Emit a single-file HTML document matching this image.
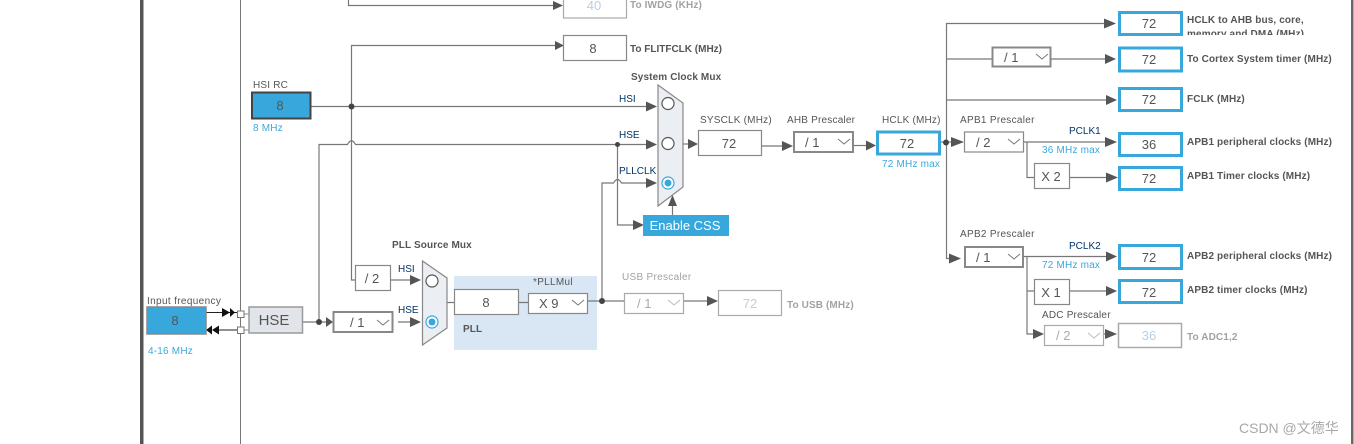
<!DOCTYPE html>
<html><head><meta charset="utf-8"><style>
html,body{margin:0;padding:0;background:#fff;width:1354px;height:444px;overflow:hidden}
svg{display:block}
text{font-family:"Liberation Sans","Noto Sans CJK SC",sans-serif;font-size:10px;fill:#555;letter-spacing:.2px}
.b{font-weight:bold;font-size:10px;letter-spacing:.12px}
.n{fill:#036;font-size:10px;letter-spacing:0}
.bl{fill:#3aa8dd;font-size:10px;letter-spacing:.2px}
.g{fill:#a0a3a6}
.v{font-size:13px;text-anchor:middle;fill:#555;letter-spacing:0}
.vd{font-size:13px;text-anchor:middle;fill:#b9cfe6;letter-spacing:0}
.s{font-size:13px;letter-spacing:0}
.l{fill:none;stroke:#777;stroke-width:1.2}
.box{fill:#fff;stroke:#888;stroke-width:1.2}
.box2{fill:#fff;stroke:#888;stroke-width:2}
.out{fill:#fff;stroke:#38a8dc;stroke-width:3}
.dis{fill:#fff;stroke:#aaa;stroke-width:1.2}
.chev{fill:none;stroke:#777;stroke-width:1}
.chevd{fill:none;stroke:#bbb;stroke-width:1}
.ar{fill:#555}
.d{fill:#444}
</style></head><body>
<svg width="1354" height="444" viewBox="0 0 1354 444" xmlns="http://www.w3.org/2000/svg">
<rect x="140" y="0" width="3.5" height="444" fill="#555"/>
<rect x="1351" y="0" width="2.5" height="444" fill="#666"/>
<line x1="240.5" y1="0" x2="240.5" y2="444" stroke="#777" stroke-width="1"/>

<rect x="454" y="276" width="143" height="74" fill="#d9e7f5"/>

<!-- connectors -->
<path class="l" d="M348.5 0V5.5H558"/>
<path class="l" d="M558 45.5H351.5V280H355"/>
<path class="l" d="M311 106.5H650"/>
<path class="l" d="M319 322V144.5H347.5Q351.5 137 355.5 144.5H650"/>
<path class="l" d="M617.5 144.5V225H636"/>
<path class="l" d="M602 301V183H613.5Q617.5 176 621.5 183H650"/>
<path class="l" d="M672.5 215V200"/>
<path class="l" d="M683 144H690"/>
<path class="l" d="M762 146H785"/>
<path class="l" d="M853 145.5H868"/>
<path class="l" d="M941 142H956"/>
<path class="l" d="M946.5 142V23.5H1110"/>
<path class="l" d="M946.5 59H992M1051 59H1110"/>
<path class="l" d="M946.5 100H1110"/>
<path class="l" d="M946.5 142V258.5H956"/>
<path class="l" d="M1024 142H1110"/>
<path class="l" d="M1027 142V177.5H1034M1070 177.5H1110"/>
<path class="l" d="M1024 256.5H1110"/>
<path class="l" d="M1027 256.5V334H1036M1027 291H1034M1070 291H1110"/>
<path class="l" d="M1104 334H1108"/>
<path class="l" d="M303 322H326"/>
<path class="l" d="M391 280H413M398 322H413"/>
<path class="l" d="M447 302.5H454M519 302.5H528M588 301H624M684 301H710"/>
<path d="M206 312.5H237M219 330H237" stroke="#222" stroke-width="1" fill="none"/>
<path d="M244 314H249M244 330H249" stroke="#888" stroke-width="1" fill="none"/>

<!-- arrowheads -->
<g class="ar">
<polygon points="553,1 563,5.5 553,10"/>
<polygon points="555,41 564,45.5 555,50"/>
<polygon points="646,101.5 657,106.5 646,111.5"/>
<polygon points="646,139.5 657,144.5 646,149.5"/>
<polygon points="646,178 657,183 646,188"/>
<polygon points="633,220 644,225 633,230"/>
<polygon points="668,206 672.5,195 677,206"/>
<polygon points="688,139 698,144 688,149"/>
<polygon points="782,141 793,146 782,151"/>
<polygon points="866,140.5 876,145.5 866,150.5"/>
<polygon points="951,137 964,142 951,147"/>
<polygon points="1104,18.5 1116,23.5 1104,28.5"/>
<polygon points="1105,54 1116,59 1105,64"/>
<polygon points="1106,95 1117,100 1106,105"/>
<polygon points="1105,137 1117,142 1105,147"/>
<polygon points="1106,172.5 1118,177.5 1106,182.5"/>
<polygon points="949,253.5 961,258.5 949,263.5"/>
<polygon points="1106,251.5 1117,256.5 1106,261.5"/>
<polygon points="1106,286 1117,291 1106,296"/>
<polygon points="1033,329 1044,334 1033,339"/>
<polygon points="1105,329 1117,334 1105,339"/>
<polygon points="326,317 333,322 326,327"/>
<polygon points="410,275 421,280 410,285"/>
<polygon points="410,317 421,322 410,327"/>
<polygon points="707,296 718,301 707,306"/>
</g>
<g fill="#111">
<polygon points="222,308 230,312.5 222,317"/>
<polygon points="230,308 235,312.5 230,317"/>
<polygon points="212,325.5 206,330 212,334.5"/>
<polygon points="219,325.5 212,330 219,334.5"/>
</g>
<g class="d">
<circle cx="351.5" cy="106.5" r="3"/>
<circle cx="617.5" cy="144.5" r="2.5"/>
<circle cx="319" cy="322" r="3"/>
<circle cx="602" cy="301" r="3"/>
<circle cx="946" cy="142.5" r="3"/>
</g>

<!-- left blocks -->
<text x="147" y="304" style="letter-spacing:.35px">Input frequency</text>
<rect x="147" y="307" width="59" height="27" fill="#38a8dc" stroke="#888" stroke-width="1.5"/>
<text x="175" y="325" class="v">8</text>
<text x="148" y="354" class="bl">4-16 MHz</text>
<rect x="237.5" y="311" width="6.5" height="6.5" fill="#fff" stroke="#777"/>
<rect x="237.5" y="327" width="6.5" height="6.5" fill="#fff" stroke="#777"/>
<rect x="249" y="307" width="53.5" height="26" fill="#e1e4e8" stroke="#999" stroke-width="1.5"/>
<text x="274" y="325" style="font-size:15px;text-anchor:middle;letter-spacing:0">HSE</text>

<text x="253" y="88">HSI RC</text>
<rect x="252" y="92.5" width="58.5" height="26" fill="#38a8dc" stroke="#444" stroke-width="2"/>
<text x="280" y="110" class="v">8</text>
<text x="253" y="131" class="bl">8 MHz</text>

<rect class="box2" x="333.5" y="312" width="59" height="20"/>
<text x="350" y="327" class="s">/ 1</text>
<path class="chev" d="M377 320L383 325L389 320"/>
<rect class="box" x="355.5" y="265.5" width="35" height="25"/>
<text x="372" y="283" class="v">/ 2</text>

<text x="398" y="272" class="n">HSI</text>
<text x="398" y="313" class="n">HSE</text>
<text x="392" y="248" class="b">PLL Source Mux</text>
<polygon points="422.5,261 447,278 447,328 422.5,345" fill="#ebeef2" stroke="#888" stroke-width="1.2"/>
<circle cx="432" cy="281" r="6" fill="#fff" stroke="#555" stroke-width="1.2"/>
<circle cx="432" cy="322" r="6" fill="#fff" stroke="#38a8dc" stroke-width="1.2"/>
<circle cx="432" cy="322" r="3.5" fill="#38a8dc"/>

<rect class="box" x="454.5" y="289.5" width="64" height="25"/>
<text x="486" y="307" class="v">8</text>
<rect class="box" x="528.5" y="293.5" width="59" height="20"/>
<text x="539" y="308" class="s">X 9</text>
<path class="chev" d="M572 300L578 305L584 300"/>
<text x="533" y="285" style="letter-spacing:.3px">*PLLMul</text>
<text x="463" y="332" class="b">PLL</text>

<text x="622" y="280" class="g" style="letter-spacing:.3px">USB Prescaler</text>
<rect class="dis" x="624.5" y="293.5" width="59" height="20"/>
<text x="637" y="308" class="s" style="fill:#aaa">/ 1</text>
<path class="chevd" d="M668 300L674 305L680 300"/>
<rect class="dis" x="718.5" y="290.5" width="63" height="25"/>
<text x="750" y="308" class="vd">72</text>
<text x="787" y="308" class="g b">To USB (MHz)</text>

<!-- top middle -->
<rect class="dis" x="563.5" y="-8" width="63" height="26"/>
<text x="594" y="10" class="vd">40</text>
<text x="630" y="8" class="g b">To IWDG (KHz)</text>
<rect class="box" x="563.5" y="35.5" width="63" height="25"/>
<text x="593" y="53" class="v">8</text>
<text x="630" y="52" class="b" style="letter-spacing:0">To FLITFCLK (MHz)</text>

<text x="631" y="80" class="b">System Clock Mux</text>
<text x="619" y="102" class="n">HSI</text>
<text x="619" y="138" class="n">HSE</text>
<text x="619" y="174" class="n">PLLCLK</text>
<polygon points="658,85 683,103 683,187 658,206" fill="#ebeef2" stroke="#888" stroke-width="1.2"/>
<circle cx="668" cy="103.5" r="6" fill="#fff" stroke="#555" stroke-width="1.2"/>
<circle cx="668" cy="143.5" r="6" fill="#fff" stroke="#555" stroke-width="1.2"/>
<circle cx="668" cy="183" r="6" fill="#fff" stroke="#38a8dc" stroke-width="1.2"/>
<circle cx="668" cy="183" r="3.5" fill="#38a8dc"/>
<rect x="643" y="215" width="86" height="21" fill="#38a8dc"/>
<text x="685" y="230" style="font-size:13px;fill:#fff;text-anchor:middle;letter-spacing:0">Enable CSS</text>

<text x="700" y="123">SYSCLK (MHz)</text>
<rect class="box" x="698.5" y="130.5" width="63" height="25"/>
<text x="729" y="148" class="v">72</text>
<text x="787" y="123">AHB Prescaler</text>
<rect class="box2" x="794" y="132" width="59" height="20"/>
<text x="805" y="147" class="s">/ 1</text>
<path class="chev" d="M838 139L844 144L850 139"/>
<text x="882" y="123">HCLK (MHz)</text>
<rect class="out" x="877.5" y="132" width="62" height="22"/>
<text x="907" y="148" class="v">72</text>
<text x="882" y="167" class="bl">72 MHz max</text>

<!-- right column -->
<rect class="out" x="1119.5" y="12.5" width="62" height="22"/>
<text x="1149" y="28" class="v">72</text>
<text x="1187" y="23" class="b">HCLK to AHB bus, core,</text>
<svg x="1187" y="24" width="160" height="11" viewBox="1187 24 160 11"><text x="1187" y="37" class="b">memory and DMA (MHz)</text></svg>

<rect class="box2" x="992.5" y="47.5" width="58" height="19"/>
<text x="1004" y="62" class="s">/ 1</text>
<path class="chev" d="M1036 54L1042 59L1048 54"/>
<rect class="out" x="1119.5" y="48" width="62" height="23"/>
<text x="1149" y="64" class="v">72</text>
<text x="1187" y="62" class="b">To Cortex System timer (MHz)</text>

<rect class="out" x="1119.5" y="88.5" width="62" height="22"/>
<text x="1149" y="104" class="v">72</text>
<text x="1187" y="102" class="b">FCLK (MHz)</text>

<text x="960" y="123" style="letter-spacing:.3px">APB1 Prescaler</text>
<rect class="box" x="964.5" y="132" width="59" height="20"/>
<text x="976" y="147" class="s">/ 2</text>
<path class="chev" d="M1008 139L1014 144L1020 139"/>
<text x="1069" y="134" class="n">PCLK1</text>
<text x="1042" y="153" class="bl">36 MHz max</text>
<rect class="out" x="1119.5" y="133.5" width="62" height="22"/>
<text x="1149" y="149" class="v">36</text>
<text x="1187" y="145" class="b">APB1 peripheral clocks (MHz)</text>
<rect class="box" x="1034.5" y="163.5" width="35" height="25"/>
<text x="1051" y="181" class="v">X 2</text>
<rect class="out" x="1119.5" y="167.5" width="62" height="22"/>
<text x="1149" y="183" class="v">72</text>
<text x="1187" y="179" class="b">APB1 Timer clocks (MHz)</text>

<text x="960" y="237" style="letter-spacing:.3px">APB2 Prescaler</text>
<rect class="box2" x="965" y="247" width="58" height="20"/>
<text x="976" y="262" class="s">/ 1</text>
<path class="chev" d="M1008 254L1014 259L1020 254"/>
<text x="1069" y="249" class="n">PCLK2</text>
<text x="1042" y="268" class="bl">72 MHz max</text>
<rect class="out" x="1119.5" y="245.5" width="62" height="23"/>
<text x="1149" y="262" class="v">72</text>
<text x="1187" y="259" class="b">APB2 peripheral clocks (MHz)</text>
<rect class="box" x="1034.5" y="279.5" width="35" height="25"/>
<text x="1051" y="297" class="v">X 1</text>
<rect class="out" x="1119.5" y="280.5" width="62" height="22"/>
<text x="1149" y="297" class="v">72</text>
<text x="1187" y="293" class="b">APB2 timer clocks (MHz)</text>
<text x="1042" y="318">ADC Prescaler</text>
<rect class="box" x="1044.5" y="325.5" width="59" height="20" style="stroke:#aaa"/>
<text x="1056" y="340" class="s" style="fill:#aaa">/ 2</text>
<path class="chevd" d="M1088 333L1094 338L1100 333"/>
<rect class="dis" x="1118.5" y="323.5" width="63" height="24" style="stroke-width:1.5"/>
<text x="1149" y="340" class="vd">36</text>
<text x="1187" y="340" class="g b">To ADC1,2</text>

<text x="1239" y="433" style="font-size:14px;fill:#a8a8a8;letter-spacing:0">CSDN @文德华</text>
</svg>
</body></html>
